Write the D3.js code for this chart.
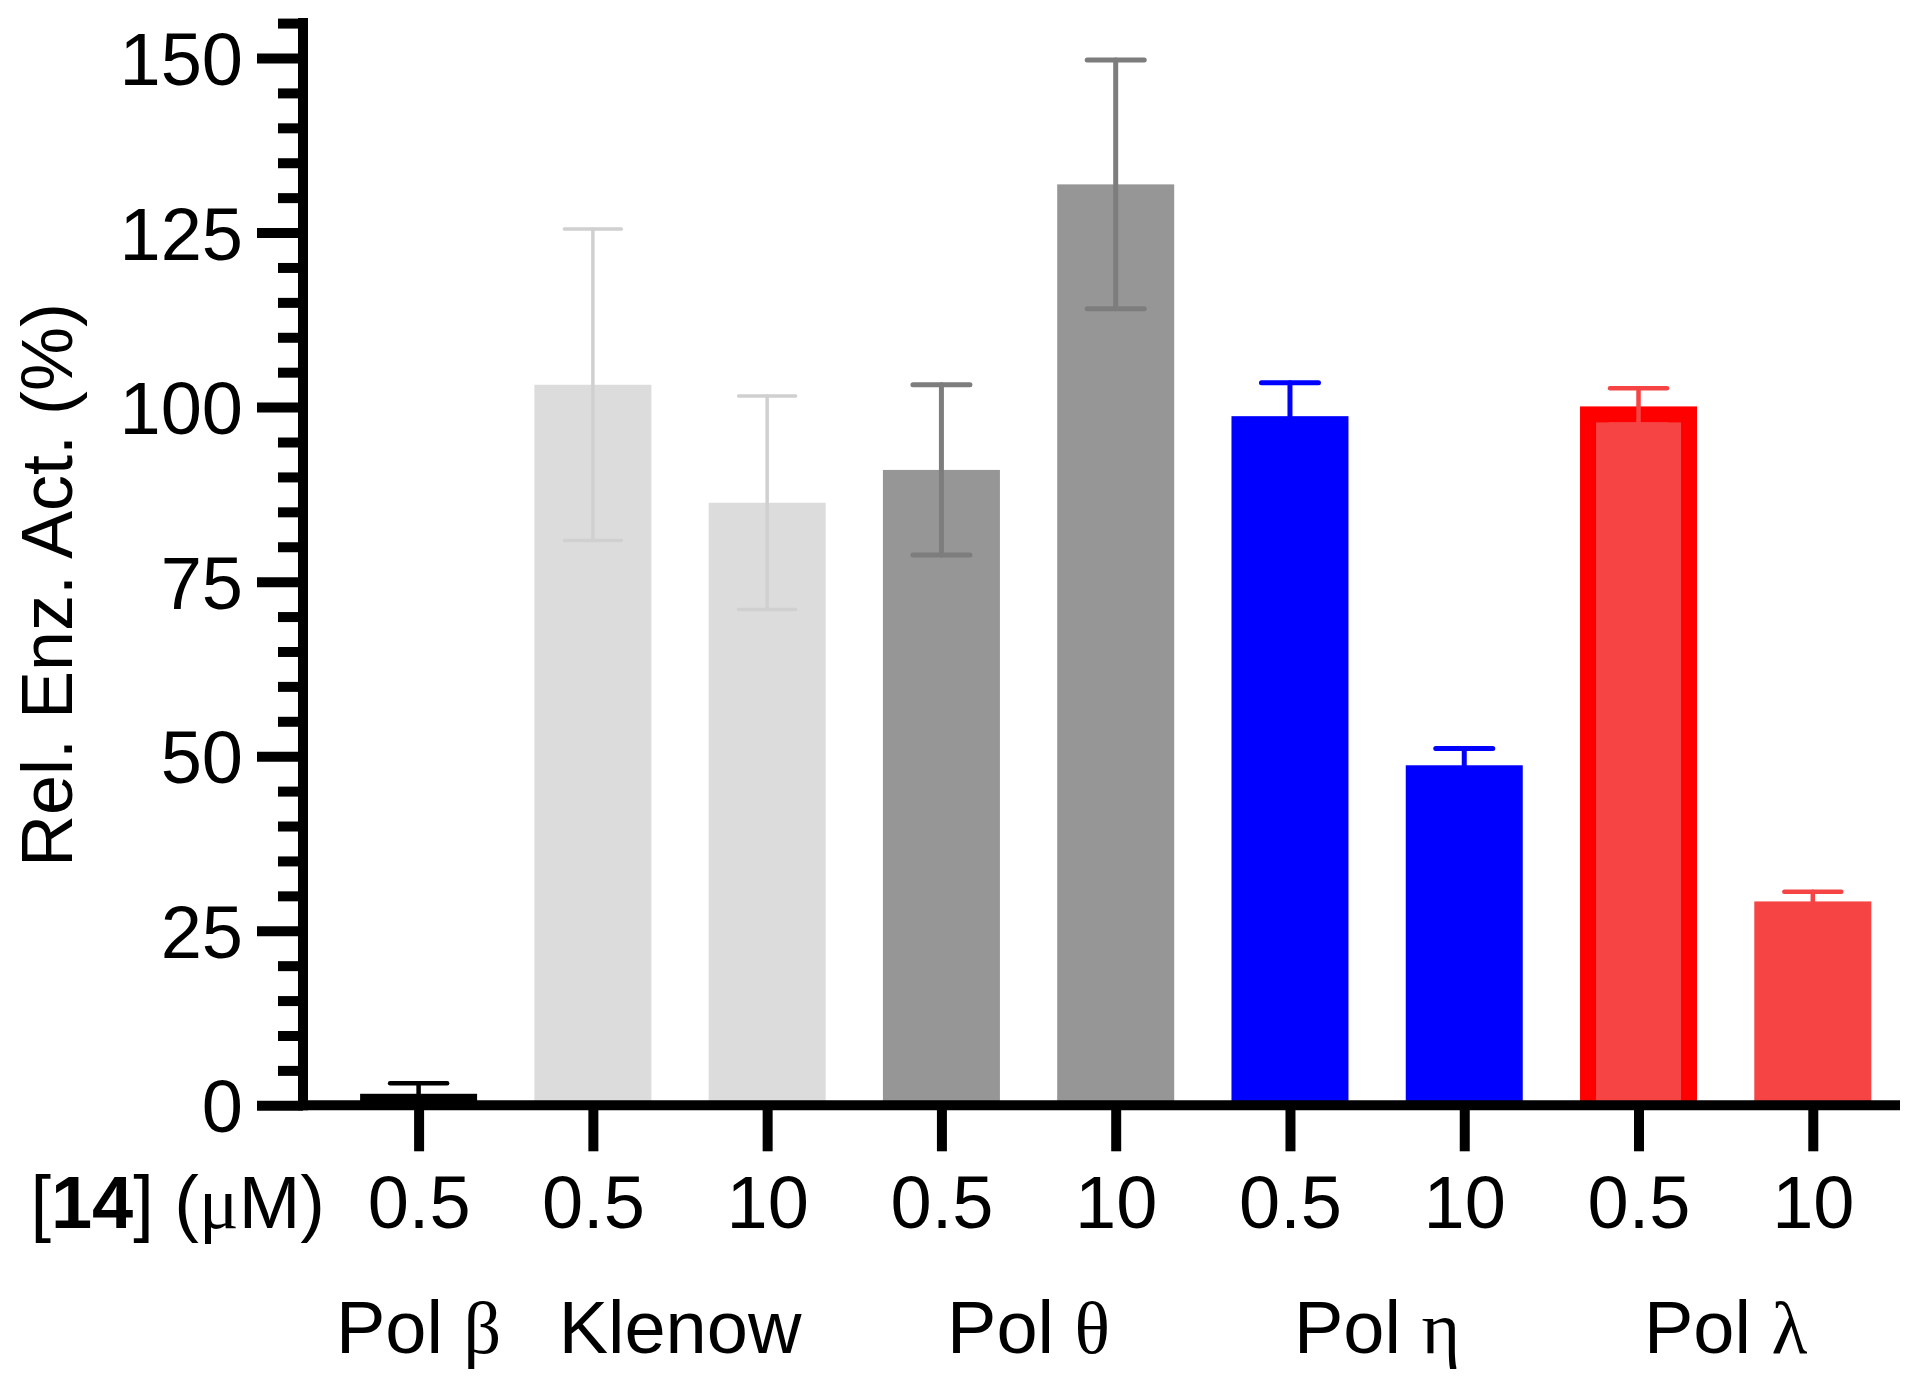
<!DOCTYPE html>
<html><head><meta charset="utf-8">
<script src="https://cdn.jsdelivr.net/npm/d3@7"></script>
<style>body{margin:0;background:#fff}</style>
</head><body>
<svg id="c" width="1920" height="1390" xmlns="http://www.w3.org/2000/svg"></svg>
<script>
// ---- data ----
const groups = ["Pol β", "Klenow", "Pol θ", "Pol η", "Pol λ"];
const groupOf = [0, 1, 1, 2, 2, 3, 3, 4, 4];
const concLabels = ["0.5", "0.5", "10", "0.5", "10", "0.5", "10", "0.5", "10"];
const values = [1.65, 103.2, 86.3, 91.0, 131.9, 98.7, 48.7, 100.1, 29.2];
const errors = [1.5, 22.3, 15.3, 12.2, 17.8, 4.8, 2.4, 2.6, 1.4];
const yTicks = [0, 25, 50, 75, 100, 125, 150];
const yMinorTicks = [5, 10, 15, 20, 30, 35, 40, 45, 55, 60, 65, 70, 80, 85, 90, 95, 105, 110, 115, 120, 130, 135, 140, 145, 155];
const yTitle = "Rel. Enz. Act. (%)";

// ---- styles ----
const fillColors = ["#000000", "#dcdcdc", "#dcdcdc", "#969696", "#969696", "#0000ff", "#0000ff", "#f64444", "#f64444"];
const errColors = ["#000000", "#d0d0d0", "#d0d0d0", "#7d7d7d", "#7d7d7d", "#0000ff", "#0000ff", "#f64444", "#f64444"];
const errWidths = [4.5, 3.5, 3.5, 5, 5, 5, 5, 4.5, 4.5];
const borderColors = [null, null, null, null, null, null, null, "#ff0000", null];

const FONT = "'Liberation Sans', Arial, Helvetica, sans-serif";
const SERIF = "'Liberation Serif', 'DejaVu Serif', serif";
const FS = 74;

const svg = d3.select("#c");
svg.append("rect").attr("width", 1920).attr("height", 1390).attr("fill", "#fff");

const axisX = 303;
const y = d3.scaleLinear().domain([0, 150]).range([1105.3, 58]);
const idx = d3.range(values.length);
const x = d3.scaleLinear().domain([0, values.length - 1]).range([418.6, 1812.8]);
const bw = 117;

// ---- bars ----
const g = svg.append("g");
idx.forEach(i => {
  const top = y(values[i]), h = y(0) - top;
  if (borderColors[i]) {
    const sw = 16;
    g.append("rect").attr("x", x(i) - bw / 2).attr("y", top)
      .attr("width", bw).attr("height", h).attr("fill", borderColors[i]);
    g.append("rect").attr("x", x(i) - bw / 2 + sw).attr("y", top + sw)
      .attr("width", bw - 2 * sw).attr("height", h - sw).attr("fill", fillColors[i]);
  } else {
    g.append("rect").attr("x", x(i) - bw / 2).attr("y", top)
      .attr("width", bw).attr("height", h).attr("fill", fillColors[i]);
  }
});

// ---- error bars ----
const capW = 57;
idx.forEach(i => {
  const lo = y(values[i] - errors[i]), hi = y(values[i] + errors[i]);
  const eg = g.append("g").attr("stroke", errColors[i]).attr("stroke-width", errWidths[i]).attr("stroke-linecap", "round");
  eg.append("line").attr("x1", x(i)).attr("x2", x(i)).attr("y1", lo).attr("y2", hi);
  eg.append("line").attr("x1", x(i) - capW / 2).attr("x2", x(i) + capW / 2).attr("y1", hi).attr("y2", hi);
  eg.append("line").attr("x1", x(i) - capW / 2).attr("x2", x(i) + capW / 2).attr("y1", lo).attr("y2", lo);
});

// ---- axes ----
const AW = 10;
const yMinor = svg.append("g").attr("transform", `translate(${axisX},0)`)
  .call(d3.axisLeft(y).tickValues(yMinorTicks).tickSize(25).tickFormat(""));
yMinor.select(".domain").remove();
yMinor.selectAll("line").attr("stroke", "#000").attr("stroke-width", AW);

const yAx = svg.append("g").attr("transform", `translate(${axisX},0)`)
  .call(d3.axisLeft(y).tickValues(yTicks).tickSize(46).tickPadding(14));
yAx.select(".domain").remove();
yAx.selectAll("line").attr("stroke", "#000").attr("stroke-width", AW);
yAx.selectAll("text").attr("font-family", FONT).attr("font-size", FS).attr("fill", "#000").attr("dy", "0.36em");

svg.append("line").attr("x1", axisX).attr("x2", axisX)
  .attr("y1", y(0) + AW / 2).attr("y2", y(155) - AW / 2)
  .attr("stroke", "#000").attr("stroke-width", AW);
svg.append("line").attr("x1", axisX).attr("x2", 1900)
  .attr("y1", y(0)).attr("y2", y(0))
  .attr("stroke", "#000").attr("stroke-width", AW);

const xAx = svg.append("g").attr("transform", `translate(0,${y(0)})`)
  .call(d3.axisBottom(x).tickValues(idx).tickSize(46).tickPadding(24).tickFormat(i => concLabels[i]));
xAx.select(".domain").remove();
xAx.selectAll("line").attr("stroke", "#000").attr("stroke-width", AW);
xAx.selectAll("text").attr("font-family", FONT).attr("font-size", FS).attr("fill", "#000");

// "[14] (μM)" row label
const rl = svg.append("text").attr("x", 325).attr("y", 1228).attr("text-anchor", "end")
  .attr("font-family", FONT).attr("font-size", FS).attr("fill", "#000");
rl.append("tspan").text("[");
rl.append("tspan").attr("font-weight", "bold").text("14");
rl.append("tspan").text("] (");
rl.append("tspan").attr("font-family", SERIF).text("μ");
rl.append("tspan").text("M)");

// group labels
groups.forEach((name, gi) => {
  const members = idx.filter(i => groupOf[i] === gi);
  const cx = d3.mean(members, i => x(i));
  const t = svg.append("text").attr("x", cx).attr("y", 1353).attr("text-anchor", "middle")
    .attr("font-family", FONT).attr("font-size", FS).attr("fill", "#000");
  const m = name.match(/^(.*\s)([\u0370-\u03ff])$/);
  if (m) {
    t.append("tspan").text(m[1]);
    t.append("tspan").attr("font-family", SERIF).text(m[2]);
  } else {
    t.text(name);
  }
});

// y title
svg.append("text").attr("transform", "translate(47,585) rotate(-90)")
  .attr("text-anchor", "middle").attr("dy", "0.35em")
  .attr("font-family", FONT).attr("font-size", 72).attr("fill", "#000").text(yTitle);
</script>
</body></html>
